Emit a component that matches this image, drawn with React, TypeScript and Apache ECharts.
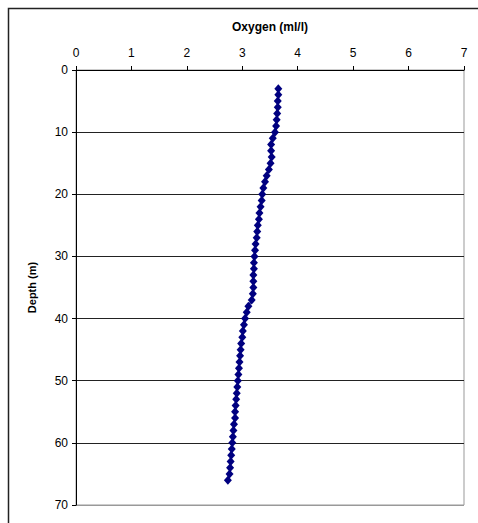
import React, { useEffect, useRef } from "react";
import * as echarts from "echarts";

const depths: number[] = [
  3, 4, 5, 6, 7, 8, 9, 10, 11, 12, 13, 14, 15, 16, 17, 18, 19, 20, 21, 22, 23, 24, 25, 26, 27, 28, 29, 30,
  31, 32, 33, 34, 35, 36, 37, 38, 39, 40, 41, 42, 43, 44, 45, 46, 47, 48, 49, 50, 51, 52, 53, 54, 55, 56,
  57, 58, 59, 60, 61, 62, 63, 64, 65, 66,
];
const oxygen: number[] = [
  3.65, 3.65, 3.64, 3.64, 3.63, 3.62, 3.61, 3.59, 3.55, 3.52, 3.52, 3.53, 3.51, 3.48, 3.44, 3.41, 3.38, 3.36,
  3.35, 3.33, 3.31, 3.3, 3.28, 3.27, 3.26, 3.24, 3.23, 3.22, 3.21, 3.21, 3.2, 3.2, 3.2, 3.19, 3.17, 3.11,
  3.08, 3.05, 3.03, 3.01, 3.0, 2.98, 2.97, 2.96, 2.95, 2.94, 2.93, 2.92, 2.91, 2.9, 2.89, 2.88, 2.87, 2.87,
  2.85, 2.84, 2.83, 2.82, 2.81, 2.8, 2.79, 2.78, 2.77, 2.74,
];
const xTitle = "Oxygen (ml/l)";
const yTitle = "Depth (m)";

export default function App() {
  const ref = useRef<HTMLDivElement>(null);
  useEffect(() => {
    if (!ref.current) return;
    const chart = echarts.init(ref.current, null, { renderer: "svg" });
    const font = "Liberation Sans, Arial, sans-serif";
    chart.setOption({
      animation: false,
      backgroundColor: "#fff",
      textStyle: { fontFamily: font },
      graphic: [
        {
          type: "rect",
          shape: { x: 8.5, y: 8.5, width: 600, height: 600 },
          style: { fill: "none", stroke: "#222", lineWidth: 1.5 },
          silent: true,
        },
      ],
      grid: {
        left: 76,
        right: 14,
        top: 70,
        bottom: 18,
        show: true,
        borderColor: "#999",
        borderWidth: 1,
        backgroundColor: "transparent",
      },
      xAxis: {
        type: "value",
        position: "top",
        min: 0,
        max: 7,
        interval: 1,
        name: xTitle,
        nameLocation: "middle",
        nameGap: 37,
        nameTextStyle: { fontFamily: font, fontSize: 12, fontWeight: "bold", color: "#000" },
        axisLine: { show: true, lineStyle: { color: "#000", width: 1 } },
        axisTick: { show: true, inside: false, length: 4, lineStyle: { color: "#000" } },
        axisLabel: { fontFamily: font, fontSize: 12, color: "#000", margin: 11 },
        splitLine: { show: false },
      },
      yAxis: {
        type: "value",
        inverse: true,
        min: 0,
        max: 70,
        interval: 10,
        name: yTitle,
        nameLocation: "middle",
        nameGap: 39,
        nameRotate: 90,
        nameTextStyle: { fontFamily: font, fontSize: 11, fontWeight: "bold", color: "#000" },
        axisLine: { show: true, lineStyle: { color: "#000", width: 1 } },
        axisTick: { show: true, inside: false, length: 4, lineStyle: { color: "#000" } },
        axisLabel: { fontFamily: font, fontSize: 12, color: "#000", margin: 8 },
        splitLine: {
          show: true,
          lineStyle: {
            color: ["#000", "#222", "#222", "#222", "#222", "#222", "#222", "#999"],
            width: 1,
          },
        },
      },
      series: [
        {
          type: "line",
          data: depths.map((d, i) => [oxygen[i], d]),
          symbol: "diamond",
          symbolSize: [8, 9],
          showSymbol: true,
          itemStyle: { color: "#000080" },
          lineStyle: { color: "#000080", width: 1.5 },
        },
      ],
    });
    return () => chart.dispose();
  }, []);
  return (
    <div
      ref={ref}
      style={{ position: "fixed", left: 0, top: 0, width: 478, height: 523 }}
    />
  );
}
